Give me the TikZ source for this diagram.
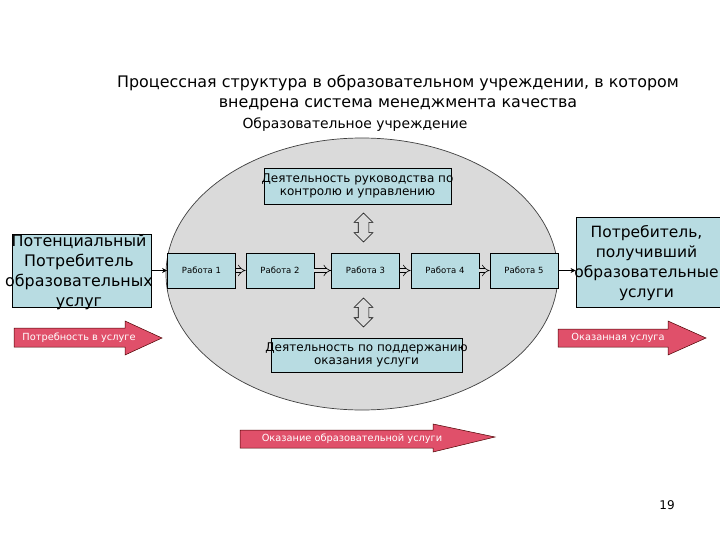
\documentclass[tikz,border=0pt]{standalone}
\usepackage{fontspec}
\setmainfont{DejaVu Sans}
\usetikzlibrary{arrows.meta,shapes.arrows}
\definecolor{boxblue}{HTML}{B8DCE2}
\definecolor{ellgray}{HTML}{DADADA}
\definecolor{arrred}{HTML}{E0506A}
\tikzset{
 bx/.style={draw=black, fill=boxblue, inner sep=0pt, line width=0.8pt},
 lbl/.style={align=center, inner sep=0pt},
 work/.style={bx, minimum width=68pt, minimum height=35pt, font=\fontsize{8.5}{10}\selectfont},
 hollow/.style={draw=black, double=ellgray, double distance=3.5pt, line width=0.6pt, -{Implies}},
 conn/.style={draw=black, line width=0.8pt, -{Stealth[length=5pt,width=5pt]}},
 redarrow/.style={fill=arrred, draw=black!70!red, line width=0.5pt},
 redtext/.style={text=white, font=\fontsize{9.8}{11}\selectfont, inner sep=0pt},
 vdarrow/.style={double arrow, draw=black, fill=ellgray, line width=0.6pt, rotate=90, inner sep=5pt, minimum height=29pt, double arrow head extend=4pt},
}
\begin{document}
\begin{tikzpicture}[x=1pt,y=-1pt]
\useasboundingbox (0,0) rectangle (720,540);
\fill[white] (0,0) rectangle (720,540);

% title
\node[align=center, font=\fontsize{15.9}{20}\selectfont, inner sep=0pt] (title) at (398,93)
  {Процессная структура в образовательном учреждении, в котором\\внедрена система менеджмента качества};
\node[font=\fontsize{13.9}{16}\selectfont, inner sep=0pt] (org) at (355,125) {Образовательное учреждение};

% ellipse
\draw[fill=ellgray, draw=black!75, line width=0.7pt] (362,274) ellipse [x radius=196pt, y radius=136pt];

% boxes inside
\node[bx, minimum width=187pt, minimum height=36pt,
  label={[lbl, font=\fontsize{12}{13.5}\selectfont]center:{Деятельность руководства по\\контролю и управлению}}] (top) at (357.5,186) {};
\node[bx, minimum width=191pt, minimum height=34pt,
  label={[lbl, font=\fontsize{12}{13.5}\selectfont]center:{Деятельность по поддержанию\\оказания услуги}}] (bot) at (366.5,355) {};

\node[work] (w1) at (201.5,270.5) {Работа 1};
\node[work] (w2) at (280,270.5) {Работа 2};
\node[work] (w3) at (365.5,270.5) {Работа 3};
\node[work] (w4) at (445,270.5) {Работа 4};
\node[work] (w5) at (524,270.5) {Работа 5};

\draw[hollow] (w1) -- (w2);
\draw[hollow] (w2) -- (w3);
\draw[hollow] (w3) -- (w4);
\draw[hollow] (w4) -- (w5);

\node[vdarrow] (va) at (363.5,227.5) {};
\node[vdarrow] (vb) at (363.5,312.5) {};

% outer boxes
\node[bx, minimum width=139pt, minimum height=73pt] (cons) at (81.5,270.5) {};
\node[lbl, font=\fontsize{15.9}{20}\selectfont] (consT) at (79,272)
  {Потенциальный\\Потребитель\\образовательных\\услуг};
\node[bx, minimum width=146pt, minimum height=90pt] (recv) at (649,262) {};
\node[lbl, font=\fontsize{15.5}{20}\selectfont] (recvT) at (646.5,263)
  {Потребитель,\\получивший\\образовательные\\услуги};

\draw[conn] (cons.east |- w1.west) -- (w1.west);
\draw[conn] (w5.east) -- (recv.west |- w5.east);

% red arrows
\draw[redarrow] (14,328) -- (125,328) -- (125,321) -- (162,338) -- (125,355) -- (125,347) -- (14,347) -- cycle;
\node[redtext] (need) at (79,338) {Потребность в услуге};
\draw[redarrow] (558,329) -- (668,329) -- (668,321) -- (706,338) -- (668,355) -- (668,347) -- (558,347) -- cycle;
\node[redtext] (done) at (618,338) {Оказанная услуга};
\draw[redarrow] (240,430) -- (433,430) -- (433,424) -- (495,437) -- (433,452) -- (433,448) -- (240,448) -- cycle;
\node[redtext] (prov) at (352,439) {Оказание образовательной услуги};

\node[font=\fontsize{12}{14}\selectfont, inner sep=0pt] (page) at (667,505) {19};
\end{tikzpicture}
\end{document}
